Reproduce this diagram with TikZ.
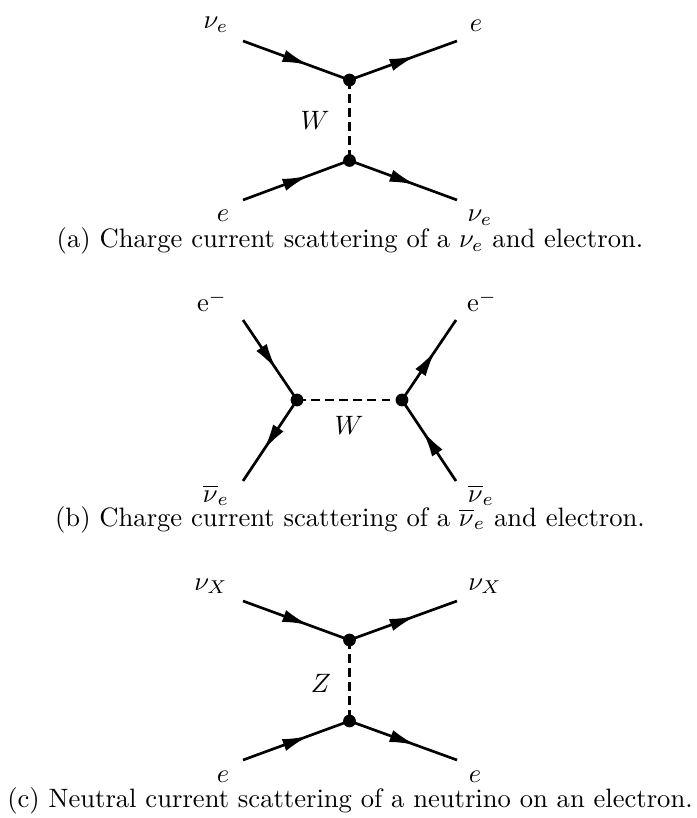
\documentclass[tikz,border=0pt]{standalone}
\usetikzlibrary{arrows.meta,decorations.markings}
\begin{document}
\begin{tikzpicture}[x=0.376pt,y=-0.376pt,
  fermion/.style={line width=1.0pt, postaction={decorate},
    decoration={markings, mark=at position 0.62 with {\arrow{Latex[length=10pt,width=4.7pt]}}}},
  boson/.style={line width=1.0pt, dash pattern=on 3.3pt off 2pt},
  vtx/.style={circle, fill, inner sep=0pt, minimum size=4.8pt},
  lab/.style={anchor=base, inner sep=0pt},
  captxt/.style={anchor=base, inner sep=0pt}]
\useasboundingbox (0,0) rectangle (696,818);
% ---------- (a)
\coordinate (a1) at (243,41);
\coordinate (a2) at (457,41);
\coordinate (a3) at (243,200);
\coordinate (a4) at (457,200);
\coordinate (av1) at (349.5,80);
\coordinate (av2) at (349.5,160.5);
\draw[fermion] (a1) -- (av1);
\draw[fermion] (av1) -- (a2);
\draw[fermion] (a3) -- (av2);
\draw[fermion] (av2) -- (a4);
\draw[boson] (av1) -- (av2);
\node[vtx] (da1) at (av1) {};
\node[vtx] (da2) at (av2) {};
\node[lab] (la1) at (216,29) {$\nu_e$};
\node[lab] (la2) at (476,32) {$e$};
\node[lab] (la3) at (315,130) {$W$};
\node[lab] (la4) at (223,222) {$e$};
\node[lab] (la5) at (480,222) {$\nu_e$};
\node[captxt] (ca) at (350,248) {(a) Charge current scattering of a $\nu_e$ and electron.};
% ---------- (b)
\coordinate (b1) at (243,320);
\coordinate (b2) at (243,481);
\coordinate (b3) at (456,320);
\coordinate (b4) at (456,481);
\coordinate (bv1) at (297,400);
\coordinate (bv2) at (402,400);
\draw[fermion] (b1) -- (bv1);
\draw[fermion] (bv1) -- (b2);
\draw[fermion] (bv2) -- (b3);
\draw[fermion] (b4) -- (bv2);
\draw[boson] (bv1) -- (bv2);
\node[vtx] (db1) at (bv1) {};
\node[vtx] (db2) at (bv2) {};
\node[lab] (lb1) at (212,312) {$\mathrm{e}^-$};
\node[lab] (lb2) at (482,312) {$\mathrm{e}^-$};
\node[lab] (lb3) at (349,435) {$W$};
\node[lab] (lb4) at (216,502) {$\overline{\nu}_e$};
\node[lab] (lb5) at (481,502) {$\overline{\nu}_e$};
\node[captxt] (cb) at (350,526) {(b) Charge current scattering of a $\overline{\nu}_e$ and electron.};
% ---------- (c)
\coordinate (c1) at (243,601);
\coordinate (c2) at (457,601);
\coordinate (c3) at (243,760);
\coordinate (c4) at (457,760);
\coordinate (cv1) at (349.5,640);
\coordinate (cv2) at (349.5,721);
\draw[fermion] (c1) -- (cv1);
\draw[fermion] (cv1) -- (c2);
\draw[fermion] (c3) -- (cv2);
\draw[fermion] (cv2) -- (c4);
\draw[boson] (cv1) -- (cv2);
\node[vtx] (dc1) at (cv1) {};
\node[vtx] (dc2) at (cv2) {};
\node[lab] (lc1) at (211,590) {$\nu_X$};
\node[lab] (lc2) at (485,590) {$\nu_X$};
\node[lab] (lc3) at (321,692) {$Z$};
\node[lab] (lc4) at (223,782) {$e$};
\node[lab] (lc5) at (475,782) {$e$};
\node[captxt] (cc) at (350,807) {(c) Neutral current scattering of a neutrino on an electron.};
\end{tikzpicture}
\end{document}
